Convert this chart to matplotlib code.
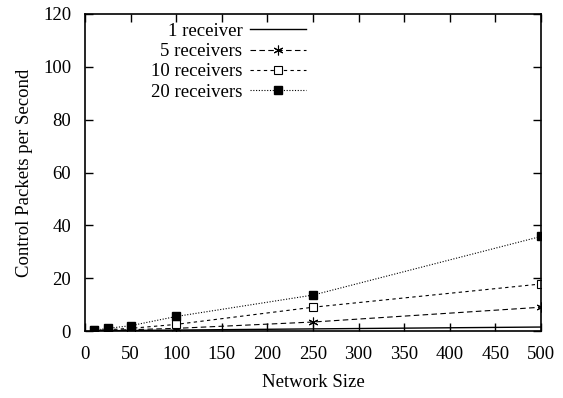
import matplotlib.pyplot as plt

plt.rcParams['font.family'] = ['Liberation Serif', 'DejaVu Serif']

# Network sizes
sizes = [10, 25, 50, 100, 250, 500]

# Control packets per second for each receiver count
one_rx = [0.05, 0.1, 0.2, 0.35, 0.8, 1.5]
five_rx = [0.1, 0.25, 0.5, 1.0, 3.4, 9.0]
ten_rx = [0.2, 0.5, 1.0, 2.5, 9.0, 17.8]
twenty_rx = [0.3, 1.0, 2.0, 5.5, 13.6, 35.8]

fig = plt.figure(figsize=(5.63, 3.98), dpi=100)
ax = fig.add_axes([85 / 563, 1 - 331 / 398, (541 - 85) / 563, (331 - 14) / 398])

asterisk = (6, 2, 0)
ax.plot(sizes, one_rx, color='black', linestyle='-', linewidth=1, label='1 receiver')
ax.plot(sizes, five_rx, color='black', linestyle=(0, (5, 3)), linewidth=0.8,
        marker=asterisk, markersize=7, markeredgewidth=0.8, label='5 receivers')
ax.plot(sizes, ten_rx, color='black', linestyle=(0, (3, 3)), linewidth=0.8,
        marker='s', markersize=6, markerfacecolor='white', markeredgewidth=0.8,
        label='10 receivers')
ax.plot(sizes, twenty_rx, color='black', linestyle=(0, (1, 1.5)), linewidth=0.8,
        marker='s', markersize=6, label='20 receivers')

ax.set_xlim(0, 500)
ax.set_ylim(0, 120)
ax.set_xticks(range(0, 501, 50))
ax.set_yticks(range(0, 121, 20))
ax.tick_params(direction='in', top=True, right=True, labelsize=13.5, length=6, width=1)
ax.tick_params(axis='y', pad=10)
ax.tick_params(axis='x', pad=11)
for s in ax.spines.values():
    s.set_linewidth(1.2)
ax.set_xlabel('Network Size', fontsize=13.5, labelpad=8)
ax.set_ylabel('Control Packets per Second', fontsize=13.5, labelpad=7)

ax.legend(loc='upper right', bbox_to_anchor=(0.485, 0.972), frameon=False, markerfirst=False,
          fontsize=13.5, handlelength=3.0, handletextpad=0.4, labelspacing=0.165,
          borderpad=0, borderaxespad=0)

fig.savefig('out.png', dpi=100)
